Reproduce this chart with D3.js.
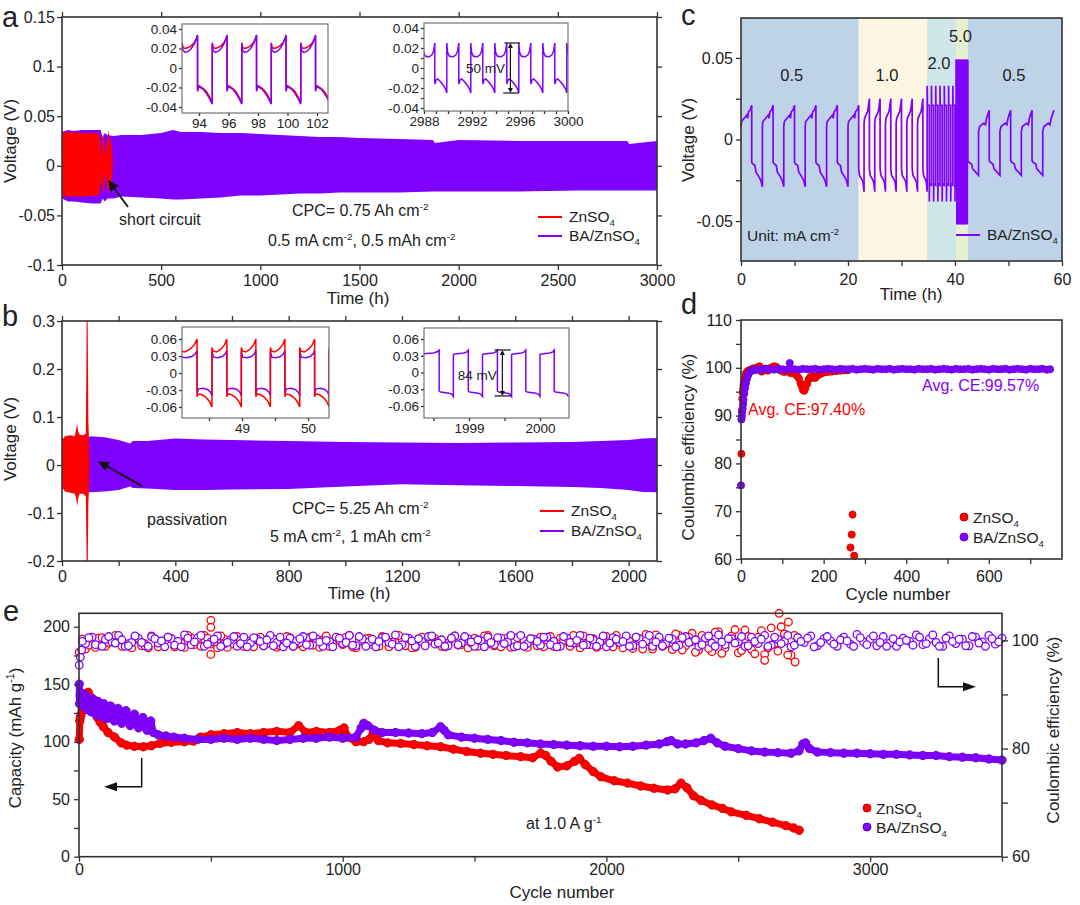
<!DOCTYPE html>
<html>
<head>
<meta charset="utf-8">
<script src="https://cdn.jsdelivr.net/npm/d3@7"></script>
<style>
  body { margin: 0; background: #fff; }
  svg { display: block; }
</style>
</head>
<body>
<script>
// colours and fonts
var FONT = "'Liberation Sans', Arial, Helvetica, sans-serif";
var RED = "#ff0000", PURPLE = "#8000ff", INK = "#222", AX = "#333";

// ---------- panel a : long symmetric cycling, 0.5 mA cm-2 ----------
var aXTicks = [0, 500, 1000, 1500, 2000, 2500, 3000];
var aYTicks = [-0.1, -0.05, 0, 0.05, 0.1, 0.15];
// envelope of the voltage band (time h, upper V, lower V)
var aBaTime = [0, 30, 60, 100, 150, 195, 205, 215, 230, 260, 300, 400, 500, 560, 600, 700, 800, 900, 1000, 1100, 1200, 1300, 1400, 1500, 1700, 1870, 1880, 2000, 2300, 2600, 2850, 2860, 3000];
var aBaHi = [0.034, 0.036, 0.035, 0.036, 0.036, 0.036, 0.028, 0.033, 0.031, 0.03, 0.031, 0.031, 0.033, 0.036, 0.034, 0.034, 0.033, 0.033, 0.032, 0.031, 0.03, 0.029, 0.029, 0.028, 0.027, 0.026, 0.023, 0.026, 0.025, 0.025, 0.025, 0.022, 0.025];
var aBaLo = [-0.033, -0.036, -0.036, -0.037, -0.038, -0.038, -0.033, -0.036, -0.033, -0.033, -0.031, -0.032, -0.033, -0.034, -0.034, -0.033, -0.032, -0.03, -0.03, -0.029, -0.028, -0.028, -0.027, -0.027, -0.027, -0.026, -0.026, -0.026, -0.026, -0.025, -0.025, -0.025, -0.025];
var aZnTime = [0, 20, 100, 180, 190, 200, 205, 212, 220, 228, 235, 242, 250, 256];
var aZnHi = [0.033, 0.034, 0.033, 0.033, 0.029, 0.012, 0.03, 0.031, 0.008, 0.025, 0.036, 0.02, 0.03, 0.0];
var aZnLo = [-0.03, -0.031, -0.031, -0.03, -0.028, -0.012, -0.025, -0.027, -0.006, -0.02, -0.028, -0.015, -0.02, 0.0];
// inset a1 (93-103 h): switching times and half-cycle profiles [fraction, V]
var a1Edges = [92.85, 93.9, 94.9, 95.9, 96.9, 97.9, 98.9, 99.9, 100.9, 101.9, 102.9];
var a1BaPos = [[0, 0.025], [0.06, 0.018], [0.2, 0.016], [0.4, 0.017], [0.6, 0.02], [0.8, 0.025], [0.95, 0.031], [1, 0.034]];
var a1BaNeg = [[0, -0.024], [0.08, -0.019], [0.2, -0.02], [0.4, -0.022], [0.6, -0.026], [0.8, -0.031], [1, -0.037]];
var a1ZnPos = [[0, 0.026], [0.06, 0.021], [0.2, 0.02], [0.4, 0.021], [0.6, 0.023], [0.8, 0.026], [0.95, 0.031], [1, 0.033]];
var a1ZnNeg = [[0, -0.022], [0.08, -0.018], [0.2, -0.019], [0.4, -0.021], [0.6, -0.024], [0.8, -0.029], [1, -0.035]];
var a1XTicks = [94, 96, 98, 100, 102];
var a1YTicks = [-0.04, -0.02, 0, 0.02, 0.04];
// inset a2 (2988-3000 h)
var a2Edges = [2987.9, 2988.9, 2989.9, 2990.9, 2991.9, 2992.9, 2993.9, 2994.9, 2995.9, 2996.9, 2997.9, 2998.9, 2999.9, 3000.9];
var a2Pos = [[0, 0.025], [0.06, 0.016], [0.2, 0.012], [0.5, 0.011], [0.75, 0.013], [0.9, 0.017], [1, 0.025]];
var a2Neg = [[0, -0.016], [0.1, -0.012], [0.25, -0.011], [0.5, -0.014], [0.75, -0.018], [0.9, -0.021], [1, -0.025]];
var a2XTicks = [2988, 2989, 2990, 2991, 2992, 2993, 2994, 2995, 2996, 2997, 2998, 2999, 3000];
var a2XLabels = [2988, 2992, 2996, 3000];
var a2YTicks = [-0.04, -0.03, -0.02, -0.01, 0, 0.01, 0.02, 0.03, 0.04];

// ---------- panel b : 5 mA cm-2 ----------
var bXTicks = [0, 200, 400, 600, 800, 1000, 1200, 1400, 1600, 1800, 2000];
var bXLabels = [0, 400, 800, 1200, 1600, 2000];
var bYTicks = [-0.2, -0.1, 0, 0.1, 0.2, 0.3];
var bBaTime = [0, 95, 100, 150, 200, 240, 250, 300, 400, 500, 600, 800, 1000, 1200, 1400, 1600, 1800, 1900, 2000, 2050, 2100];
var bBaHi = [0.055, 0.058, 0.06, 0.058, 0.052, 0.045, 0.05, 0.05, 0.055, 0.053, 0.052, 0.05, 0.048, 0.047, 0.046, 0.047, 0.048, 0.05, 0.052, 0.055, 0.056];
var bBaLo = [-0.05, -0.056, -0.057, -0.055, -0.052, -0.045, -0.048, -0.049, -0.052, -0.052, -0.051, -0.05, -0.045, -0.04, -0.042, -0.044, -0.046, -0.048, -0.052, -0.056, -0.057];
var bZnTime = [0, 10, 30, 45, 50, 54, 57, 62, 75, 84, 86, 87, 90, 91, 93, 95, 97];
var bZnHi = [0.05, 0.06, 0.062, 0.06, 0.075, 0.085, 0.07, 0.063, 0.062, 0.065, 0.2, 0.33, 0.33, 0.27, 0.09, 0.06, 0];
var bZnLo = [-0.045, -0.055, -0.058, -0.06, -0.07, -0.085, -0.07, -0.06, -0.06, -0.065, -0.15, -0.22, -0.22, -0.2, -0.08, -0.055, 0];
var b1Edges = [48.05, 48.32, 48.545, 48.77, 48.99, 49.21, 49.43, 49.65, 49.875, 50.1, 50.32, 50.55];
var b1ZnPos = [[0, 0.045], [0.08, 0.039], [0.3, 0.037], [0.6, 0.042], [0.85, 0.05], [1, 0.06]];
var b1ZnNeg = [[0, -0.042], [0.08, -0.037], [0.3, -0.038], [0.6, -0.043], [0.85, -0.051], [1, -0.06]];
var b1BaPos = [[0, 0.038], [0.1, 0.028], [0.4, 0.027], [0.7, 0.029], [0.9, 0.034], [1, 0.04]];
var b1BaNeg = [[0, -0.036], [0.1, -0.028], [0.4, -0.027], [0.7, -0.029], [0.9, -0.034], [1, -0.04]];
var b1XTicks = [48.5, 49, 49.5, 50];
var b1XLabels = [49, 50];
var bInYTicks = [-0.06, -0.03, 0, 0.03, 0.06];
var b2Edges = [1998.3, 1998.58, 1998.78, 1998.99, 1999.19, 1999.4, 1999.6, 1999.8, 2000.0, 2000.2, 2000.4];
var b2Pos = [[0, 0.032], [0.1, 0.033], [0.7, 0.035], [0.9, 0.037], [1, 0.04]];
var b2Neg = [[0, -0.033], [0.1, -0.035], [0.7, -0.037], [0.9, -0.039], [1, -0.043]];
var b2XTicks = [1998.5, 1999, 1999.5, 2000];
var b2XLabels = [1999, 2000];

// ---------- panel c : rate test ----------
var cXTicks = [0, 10, 20, 30, 40, 50, 60];
var cXLabels = [0, 20, 40, 60];
var cYTicks = [-0.05, -0.025, 0, 0.025, 0.05];
var cYLabels = [-0.05, 0, 0.05];
var cRates = ["0.5", "1.0", "2.0", "5.0", "0.5"];
var cStart = [0, 22, 34.8, 40.2, 42.4];
var cEnd = [22, 34.8, 40.2, 42.4, 60];
var cBandColor = ["#bed3e7", "#fdf6e3", "#cfe7ea", "#e6f1d0", "#bed3e7"];
var c05aEdges = [0, 2, 4, 6, 8, 10, 12, 14, 16, 18, 20, 22];
var c05aPos = [[0, 0.008], [0.05, 0.011], [0.3, 0.013], [0.55, 0.015], [0.62, 0.013], [0.7, 0.017], [0.85, 0.018], [1, 0.021]];
var c05aNeg = [[0, -0.014], [0.1, -0.015], [0.3, -0.016], [0.4, -0.02], [0.6, -0.022], [0.85, -0.025], [1, -0.029]];
var c10Edges = [22, 23, 24, 25, 26, 27, 28, 29, 30, 31, 32, 33, 34, 34.8];
var c10Pos = [[0, 0.01], [0.1, 0.013], [0.5, 0.016], [0.65, 0.017], [0.8, 0.02], [1, 0.025]];
var c10Neg = [[0, -0.018], [0.15, -0.022], [0.5, -0.024], [0.8, -0.026], [1, -0.032]];
var c20Edges = [34.8, 35.2, 35.6, 36.0, 36.4, 36.8, 37.2, 37.6, 38.0, 38.4, 38.8, 39.2, 39.6, 40.0, 40.2];
var c20Pos = [[0, 0.033], [0.1, 0.021], [1, 0.021]];
var c20Neg = [[0, -0.038], [0.1, -0.027], [1, -0.028]];
var c50Edges = [40.2, 40.35, 40.5, 40.65, 40.8, 40.95, 41.1, 41.25, 41.4, 41.55, 41.7, 41.85, 42.0, 42.15, 42.3, 42.4];
var c50Pos = [[0, 0.049], [1, 0.048]];
var c50Neg = [[0, -0.052], [1, -0.051]];
var c05bEdges = [42.4, 44.4, 46.4, 48.4, 50.4, 52.4, 54.4, 56.4, 58.5];
var c05bPos = [[0, 0.005], [0.1, 0.008], [0.5, 0.01], [0.65, 0.009], [0.75, 0.013], [1, 0.018]];
var c05bNeg = [[0, -0.013], [0.1, -0.014], [0.35, -0.015], [0.45, -0.018], [1, -0.022]];
var cLabX = [9.5, 27.3, 37.0, 41.0, 51.0];
var cLabY = [0.036, 0.036, 0.0435, 0.0595, 0.036];

// ---------- panel d : Coulombic efficiency of Zn||Cu ----------
var dXTicks = [0, 100, 200, 300, 400, 500, 600, 700];
var dXLabels = [0, 200, 400, 600];
var dYTicks = [60, 65, 70, 75, 80, 85, 90, 95, 100, 105, 110];
var dYLabels = [60, 70, 80, 90, 100, 110];
var dZn = [[1, 82], [2, 91], [3, 93.5], [4, 94.8], [5, 95.6], [6, 96.5], [8, 97.3], [10, 98.1], [12, 98.8], [15, 99.2], [18, 99.4], [22, 99.5], [26, 99.7], [30, 99.9], [35, 99.6], [40, 100.1], [45, 100.3], [50, 99.2], [55, 99.6], [60, 99.8], [65, 99.4], [70, 99.9], [75, 100.1], [80, 100.3], [85, 100.2], [90, 99.8], [95, 99.5], [100, 99.3], [105, 99.1], [110, 99.4], [115, 99.2], [120, 98.9], [125, 99.1], [130, 98.8], [135, 98.4], [140, 97.8], [144, 96.8], [147, 96.2], [150, 95.4], [153, 95.2], [156, 95.8], [160, 96.7], [164, 97.6], [168, 98.1], [172, 97.9], [176, 98.2], [180, 97.9], [185, 98.4], [190, 98.6], [195, 98.9], [200, 99.0], [210, 99.1], [220, 99.2], [230, 99.3], [240, 99.4], [250, 99.5], [258, 99.5], [270, 69.3], [268, 65.1], [265, 62.4], [274, 60.7]];
var dBa = [[0, 75.4], [1, 89.2], [2, 89.8], [3, 90.6], [4, 91.5], [5, 92.4], [6, 93.3], [8, 94.6], [10, 95.8], [12, 96.8], [14, 97.6], [16, 98.2], [18, 98.7], [20, 99.0], [24, 99.3], [28, 99.5], [32, 99.6], [36, 99.6], [40, 99.7], [50, 99.6], [60, 99.8], [70, 99.7], [80, 99.6], [90, 99.8], [100, 99.7], [110, 99.6], [118, 101.0], [120, 99.8], [130, 99.7], [140, 99.6], [150, 99.8], [160, 99.7], [170, 99.7], [180, 99.8], [190, 99.6], [200, 99.7], [210, 99.8], [220, 99.7], [230, 99.6], [240, 99.8], [250, 99.7], [260, 99.7], [270, 99.8], [280, 99.6], [290, 99.7], [300, 99.8], [310, 99.7], [320, 99.6], [330, 99.8], [340, 99.7], [350, 99.7], [360, 99.8], [370, 99.6], [380, 99.7], [390, 99.8], [400, 99.7], [410, 99.7], [420, 99.6], [430, 99.8], [440, 99.7], [450, 99.7], [460, 99.8], [470, 99.6], [480, 99.7], [490, 99.8], [500, 99.7], [510, 99.6], [520, 99.8], [530, 99.7], [540, 99.7], [550, 99.8], [560, 99.6], [570, 99.7], [580, 99.8], [590, 99.7], [600, 99.6], [610, 99.8], [620, 99.7], [630, 99.7], [640, 99.8], [650, 99.6], [660, 99.7], [670, 99.8], [680, 99.7], [690, 99.6], [700, 99.8], [710, 99.7], [720, 99.7], [730, 99.8], [740, 99.6], [748, 99.7]];

// ---------- panel e : full cell at 1.0 A g-1 ----------
var eXTicks = [0, 500, 1000, 1500, 2000, 2500, 3000, 3500];
var eXLabels = [0, 1000, 2000, 3000];
var eYTicks = [0, 25, 50, 75, 100, 125, 150, 175, 200];
var eYLabels = [0, 50, 100, 150, 200];
var eY2Ticks = [60, 70, 80, 90, 100];
var eY2Labels = [60, 80, 100];
var eZnCap = [[1, 102], [3, 118], [5, 121], [8, 124], [12, 128], [16, 133], [20, 137], [25, 140], [30, 142], [35, 143], [40, 140], [45, 136], [50, 132], [60, 126], [70, 121], [80, 117], [92, 113], [110, 108], [135, 104], [160, 99], [181, 97], [210, 96], [244, 95.6], [275, 96.5], [308, 98.6], [350, 99.5], [400, 100], [434, 100.5], [460, 104], [500, 106], [550, 107], [600, 108], [650, 107], [700, 108], [750, 109], [800, 108], [833, 114], [860, 108], [900, 109], [950, 108], [990, 110], [1005, 112], [1020, 104], [1050, 100], [1080, 100], [1100, 102], [1115, 107], [1135, 101], [1170, 99], [1220, 98.5], [1270, 97.5], [1320, 96.5], [1371, 95.6], [1420, 93.5], [1470, 91.5], [1523, 90], [1570, 89], [1620, 88], [1675, 87], [1720, 86], [1751, 90], [1770, 88], [1790, 83], [1815, 78], [1850, 79], [1880, 83], [1897, 85.5], [1920, 80], [1950, 74], [1979, 69.5], [2030, 66], [2080, 64], [2130, 61.5], [2180, 59.5], [2232, 58], [2260, 59], [2283, 64], [2305, 60], [2330, 53], [2359, 49], [2400, 45], [2440, 42], [2473, 39], [2530, 36], [2580, 33], [2630, 30], [2680, 27], [2710, 25], [2731, 23]];
var eBaCap = [[1, 150], [2, 133], [4, 140], [8, 137], [12, 142], [18, 131], [24, 140], [30, 128], [38, 138], [46, 126], [54, 137], [62, 124], [72, 135], [82, 122], [94, 133], [106, 120], [120, 131], [134, 118], [148, 129], [162, 116], [178, 127], [194, 114], [210, 124], [226, 112], [242, 121], [258, 110], [272, 118], [282, 108], [300, 106], [330, 105], [360, 104], [400, 103], [450, 102], [500, 102], [550, 103], [600, 102], [650, 103], [700, 102], [750, 101], [800, 102], [850, 103], [900, 103], [950, 104], [1000, 103], [1050, 104], [1070, 112], [1080, 116], [1095, 114], [1120, 110], [1150, 108], [1200, 108], [1250, 107.5], [1300, 107], [1340, 108], [1371, 113], [1385, 110], [1400, 106], [1450, 104], [1500, 103], [1550, 102], [1600, 101], [1650, 99.5], [1700, 99], [1750, 98], [1800, 97.5], [1850, 97], [1900, 96.5], [1950, 96], [2000, 96], [2050, 95.6], [2100, 96], [2150, 97], [2200, 98], [2230, 100], [2245, 101], [2270, 98], [2300, 98], [2340, 99], [2370, 101], [2396, 103], [2420, 99], [2450, 96], [2500, 94], [2550, 92], [2600, 91], [2650, 90.5], [2700, 90], [2730, 92], [2745, 98], [2755, 99], [2770, 94], [2800, 91], [2850, 90.5], [2900, 90], [2950, 90], [3000, 89.5], [3050, 89], [3100, 89], [3150, 88.5], [3200, 88], [3250, 88], [3300, 87], [3350, 86.5], [3400, 86], [3450, 85], [3500, 84]];
// CE read every 25 cycles (first point = cycle 1), and the in-between cycles (12.5 + 25 i)
var ceStep = 25;
var eZnCe = [97.8, 98.4, 99.5, 100.4, 98.9, 99.8, 100.6, 99.2, 98.6, 100.1,
  99.4, 100.8, 98.8, 99.9, 100.3, 99.1, 98.7, 100.5, 99.6, 100.9,
  99.3, 98.6, 100.2, 99.7, 100.7, 98.9, 99.5, 100.4, 99.0, 100.8,
  98.7, 99.9, 100.5, 99.3, 98.8, 100.6, 99.6, 100.1, 98.9, 100.3,
  99.2, 100.9, 98.6, 99.8, 100.4, 99.1, 100.7, 98.8, 99.6, 100.2,
  99.4, 98.7, 100.6, 99.9, 100.3, 98.9, 99.5, 100.8, 99.2, 98.6,
  100.4, 99.7, 100.9, 99.0, 98.8, 100.5, 99.6, 100.1, 98.7, 99.9,
  100.6, 99.3, 98.9, 100.4, 99.8, 100.9, 98.6, 99.5, 100.3, 99.1,
  100.7, 98.8, 99.6, 100.5, 98.5, 99.9, 101.1, 98.4, 100.2, 99.3,
  98.3, 100.9, 99.0, 101.3, 98.2, 100.4, 97.9, 101.6, 98.6, 100.8,
  97.7, 101.9, 98.3, 100.6, 97.4, 102.3, 98.0, 101.2, 97.2, 100.5];
var eZnCeB = [100.2, 99.1, 98.7, 100.5, 99.6, 100.9, 98.9, 99.4, 100.7, 99.0,
  98.6, 100.3, 99.8, 100.6, 98.8, 99.5, 100.9, 99.2, 98.9, 100.4,
  99.7, 100.8, 98.7, 99.3, 100.1, 99.9, 98.8, 100.6, 99.4, 100.2,
  99.0, 100.7, 98.9, 99.6, 100.4, 99.1, 98.7, 100.8, 99.5, 100.0,
  100.6, 98.8, 99.9, 100.3, 99.2, 98.9, 100.5, 99.7, 100.9, 99.0,
  98.6, 100.2, 99.4, 100.7, 99.8, 98.8, 100.4, 99.1, 100.6, 99.5,
  98.9, 100.8, 99.3, 100.1, 99.6, 98.7, 100.5, 99.9, 100.3, 99.0,
  98.8, 100.7, 99.4, 100.0, 98.9, 99.6, 100.8, 99.2, 98.7, 100.4,
  99.5, 100.9, 98.6, 99.8, 100.6, 98.4, 99.7, 101.0, 98.9, 100.3,
  101.2, 98.2, 100.6, 97.8, 100.9, 98.5, 101.5, 97.6, 100.2, 102.0,
  98.1, 100.7, 97.5, 101.8, 98.6, 99.4, 102.5, 97.3, 100.9];
var eZnCeOut = [[500, 103.7], [500, 102.4], [500, 97.4], [2655, 105.0], [2690, 103.4], [2715, 96.0], [2600, 96.3]];
var eBaCe = [95.4, 99.4, 100.6, 99.1, 100.2, 99.7, 100.9, 98.9, 99.6, 100.4,
  99.0, 100.7, 99.5, 98.8, 100.3, 99.8, 101.0, 99.2, 100.5, 98.9,
  99.7, 100.8, 99.3, 100.1, 98.9, 100.6, 99.5, 100.2, 99.0, 100.9,
  99.6, 98.8, 100.4, 99.9, 100.7, 99.1, 100.3, 98.9, 99.8, 100.6,
  99.4, 100.9, 99.0, 100.2, 99.7, 98.8, 100.5, 99.6, 101.0, 99.2,
  100.4, 98.9, 99.8, 100.7, 99.3, 100.1, 99.0, 100.8, 99.5, 100.3,
  98.9, 99.9, 100.6, 99.2, 100.4, 99.7, 98.8, 100.9, 99.4, 100.2,
  99.1, 100.6, 99.8, 98.9, 100.4, 99.5, 100.9, 99.2, 100.1, 99.7,
  98.8, 100.5, 99.6, 100.8, 99.0, 100.3, 99.9, 98.9, 100.6, 99.4,
  100.2, 99.1, 100.7, 99.8, 98.9, 100.4, 99.5, 101.0, 99.2, 100.3,
  99.7, 98.9, 100.6, 99.4, 100.9, 99.1, 100.2, 99.8, 98.8, 100.5,
  99.6, 100.8, 99.0, 100.3, 99.9, 98.9, 100.6, 99.3, 101.1, 99.7,
  100.2, 99.0, 100.7, 99.5, 98.9, 100.4, 99.8, 101.0, 99.2, 100.3,
  99.6, 98.9, 100.8, 99.4, 100.2, 99.0, 100.6, 99.7, 100.9, 99.3, 100.4];
var eBaCeB = [99.8, 100.5, 99.2, 98.9, 100.7, 99.5, 100.1, 99.0, 100.8, 99.6,
  98.9, 100.3, 99.9, 100.6, 99.1, 98.8, 100.4, 99.7, 100.9, 99.3,
  100.2, 98.9, 99.6, 100.7, 99.4, 98.8, 100.5, 99.8, 100.1, 99.0,
  100.6, 99.5, 98.9, 100.3, 99.2, 100.8, 99.7, 100.0, 98.8, 100.4,
  99.6, 99.1, 100.7, 98.9, 100.2, 99.8, 100.6, 99.3, 98.8, 100.5,
  99.9, 100.3, 99.0, 100.8, 99.5, 98.9, 100.4, 99.2, 100.7, 99.7,
  100.1, 98.8, 99.6, 100.5, 99.4, 100.9, 99.0, 98.9, 100.3, 99.8,
  100.6, 99.2, 98.8, 100.7, 99.6, 100.0, 99.1, 100.4, 98.9, 100.8,
  99.5, 100.2, 99.8, 98.9, 100.6, 99.3, 100.9, 99.7, 99.0, 100.4,
  98.8, 100.5, 99.6, 100.1, 99.2, 100.8, 98.9, 99.7, 100.3, 99.5,
  100.7, 99.0, 99.8, 100.2, 98.9, 100.6, 99.4, 100.9, 99.1, 99.8,
  100.4, 98.8, 99.6, 100.7, 99.3, 100.1, 99.9, 98.9, 100.5, 99.2,
  100.8, 99.6, 98.9, 100.3, 99.7, 100.0, 99.1, 100.6, 99.4, 101.0,
  98.9, 100.4, 99.8, 100.2, 99.0, 100.7, 99.5, 98.9, 100.3, 99.7];
var eBaCeEarly = [[5, 96.9], [10, 98.2]];

// ---------------------------------------------------------------
var svg = d3.select("body").append("svg").attr("width", 1080).attr("height", 905);
var defs = svg.append("defs");
var clipN = 0;

function clipTo(x0, y0, x1, y1) {
  var id = "clip" + (clipN++);
  defs.append("clipPath").attr("id", id).append("rect")
    .attr("x", x0).attr("y", y0).attr("width", x1 - x0).attr("height", y1 - y0);
  return "url(#" + id + ")";
}

function axis(g, scale, orient, at, ticks, labels, size, pad, fs) {
  var make = { bottom: d3.axisBottom, top: d3.axisTop, left: d3.axisLeft, right: d3.axisRight }[orient];
  var gen = make(scale).tickValues(ticks).tickSize(size).tickPadding(pad)
    .tickFormat(function (d) { return labels && labels.indexOf(d) >= 0 ? String(d) : ""; });
  var horiz = orient === "bottom" || orient === "top";
  var ag = g.append("g").attr("transform", horiz ? "translate(0," + at + ")" : "translate(" + at + ",0)").call(gen);
  ag.select(".domain").remove();
  ag.selectAll("line").attr("stroke", AX).attr("stroke-width", 1.3);
  ag.selectAll("text").attr("fill", INK).style("font-size", fs + "px").style("font-family", FONT);
  return ag;
}

function frame(g, x0, y0, x1, y1, color, w) {
  g.append("rect").attr("x", x0).attr("y", y0).attr("width", x1 - x0).attr("height", y1 - y0)
    .attr("fill", "none").attr("stroke", color || AX).attr("stroke-width", w || 1.6);
}

function rich(g, x, y, parts, fs, opt) {
  opt = opt || {};
  var t = g.append("text").attr("x", x).attr("y", y)
    .style("font-family", FONT).style("font-size", fs + "px")
    .attr("fill", opt.fill || INK).attr("text-anchor", opt.anchor || "start");
  if (opt.rotate) t.attr("transform", "rotate(" + opt.rotate + "," + x + "," + y + ")");
  var shift = 0;
  parts.forEach(function (p) {
    var txt = typeof p === "string" ? p : p[0];
    var kind = typeof p === "string" ? "" : p[1];
    var s = t.append("tspan").text(txt);
    var target = kind === "sup" ? -0.4 * fs : kind === "sub" ? 0.28 * fs : 0;
    if (target !== shift) { s.attr("dy", target - shift); shift = target; }
    if (kind) s.style("font-size", (0.62 * fs) + "px");
  });
  return t;
}

function wave(edges, firstPos, pos, neg) {
  var pts = [];
  for (var i = 0; i < edges.length - 1; i++) {
    var prof = ((i % 2 === 0) === firstPos) ? pos : neg;
    var t0 = edges[i], t1 = edges[i + 1];
    prof.forEach(function (p) { pts.push([t0 + p[0] * (t1 - t0), p[1]]); });
  }
  return pts;
}

function arrowHead(g, x1, y1, x2, y2, len, wid) {
  var dx = x2 - x1, dy = y2 - y1, L = Math.hypot(dx, dy), ux = dx / L, uy = dy / L;
  var bx = x2 - ux * len, by = y2 - uy * len;
  g.append("path")
    .attr("d", "M" + x2 + "," + y2 + "L" + (bx - uy * wid) + "," + (by + ux * wid) + "L" + (bx + uy * wid) + "," + (by - ux * wid) + "Z")
    .attr("fill", "#111");
  return [bx, by];
}

function arrow(g, x1, y1, x2, y2, len, wid, sw) {
  var b = arrowHead(g, x1, y1, x2, y2, len, wid);
  g.append("line").attr("x1", x1).attr("y1", y1).attr("x2", b[0]).attr("y2", b[1])
    .attr("stroke", "#111").attr("stroke-width", sw || 1.6);
}

function band(g, x, y, t, hi, lo, color, clip) {
  var area = d3.area().x(function (d) { return x(d[0]); })
    .y0(function (d) { return y(d[2]); }).y1(function (d) { return y(d[1]); });
  g.append("path").datum(d3.zip(t, hi, lo)).attr("d", area).attr("fill", color).attr("clip-path", clip);
}

function inset(g, box, x, y, series, xt, xl, yt, yl) {
  g.append("rect").attr("x", box[0]).attr("y", box[1]).attr("width", box[2] - box[0]).attr("height", box[3] - box[1]).attr("fill", "#fff");
  var clip = clipTo(box[0], box[1], box[2], box[3]);
  var line = d3.line().x(function (d) { return x(d[0]); }).y(function (d) { return y(d[1]); });
  series.forEach(function (s) {
    g.append("path").datum(s.pts).attr("d", line).attr("fill", "none")
      .attr("stroke", s.color).attr("stroke-width", 1.5).attr("clip-path", clip);
  });
  axis(g, x, "bottom", box[3], xt, xl, 3, 2, 13.5);
  axis(g, y, "left", box[0], yt, yl, 3, 2, 13.5);
  frame(g, box[0], box[1], box[2], box[3], "#666", 1.1);
}

function legendLine(g, x, y, color, parts) {
  g.append("line").attr("x1", x).attr("x2", x + 24).attr("y1", y).attr("y2", y).attr("stroke", color).attr("stroke-width", 2);
  rich(g, x + 31, y + 5, parts, 15.5);
}

function legendDot(g, x, y, color, parts) {
  g.append("circle").attr("cx", x).attr("cy", y).attr("r", 4).attr("fill", color).attr("stroke", d3.color(color).darker(0.6));
  rich(g, x + 9, y + 5.5, parts, 15.5);
}

var ZN = ["ZnSO", ["4", "sub"]];
var BAZN = ["BA/ZnSO", ["4", "sub"]];

// ======================= panel a =======================
var ga = svg.append("g");
var ax = d3.scaleLinear().domain([0, 3000]).range([62, 657]);
var ay = d3.scaleLinear().domain([-0.1, 0.15]).range([265, 17]);
var aClip = clipTo(62, 17, 657, 265);
band(ga, ax, ay, aBaTime, aBaHi, aBaLo, PURPLE, aClip);
band(ga, ax, ay, aZnTime, aZnHi, aZnLo, RED, aClip);
axis(ga, ax, "bottom", 265, aXTicks, aXTicks, 5, 5, 16);
axis(ga, ax, "top", 17, aXTicks, null, 5, 2, 16);
axis(ga, ay, "left", 62, aYTicks, aYTicks, 5, 2, 16);
axis(ga, ay, "right", 657, aYTicks, null, 5, 2, 16);
frame(ga, 62, 17, 657, 265);

var a1x = d3.scaleLinear().domain([94, 102]).range([199, 317]);
var a1y = d3.scaleLinear().domain([-0.04, 0.04]).range([107, 29]);
inset(ga, [182, 24, 328, 113], a1x, a1y, [
  { pts: wave(a1Edges, true, a1ZnPos, a1ZnNeg), color: RED },
  { pts: wave(a1Edges, true, a1BaPos, a1BaNeg), color: PURPLE }
], a1XTicks, a1XTicks, a1YTicks, a1YTicks);

var a2x = d3.scaleLinear().domain([2988, 3000]).range([424, 568]);
var a2y = d3.scaleLinear().domain([-0.04, 0.04]).range([108, 28]);
inset(ga, [424, 23, 568, 111], a2x, a2y, [
  { pts: wave(a2Edges, true, a2Pos, a2Neg), color: PURPLE }
], a2XTicks, a2XLabels, a2YTicks, a1YTicks);
// 50 mV marker
ga.append("line").attr("x1", a2x(2994.7)).attr("x2", a2x(2996.0)).attr("y1", a2y(0.025)).attr("y2", a2y(0.025)).attr("stroke", "#111").attr("stroke-width", 1.2);
ga.append("line").attr("x1", a2x(2994.6)).attr("x2", a2x(2995.9)).attr("y1", a2y(-0.025)).attr("y2", a2y(-0.025)).attr("stroke", "#111").attr("stroke-width", 1.2);
arrow(ga, a2x(2995.2), a2y(0), a2x(2995.2), a2y(0.025), 5, 2.5, 1.2);
arrow(ga, a2x(2995.2), a2y(0), a2x(2995.2), a2y(-0.025), 5, 2.5, 1.2);
rich(ga, a2x(2991.5), 73, ["50 mV"], 13.5);

rich(ga, 119, 225, ["short circuit"], 16);
arrow(ga, ax(333), ay(-0.0415), ax(232), ay(-0.0143), 11, 5, 1.8);
rich(ga, 292, 216, ["CPC= 0.75 Ah cm", ["-2", "sup"]], 16);
rich(ga, 268, 246, ["0.5 mA cm", ["-2", "sup"], ", 0.5 mAh cm", ["-2", "sup"]], 16);
legendLine(ga, 538, 217, RED, ZN);
legendLine(ga, 538, 236, PURPLE, BAZN);
rich(ga, 16, 141, ["Voltage (V)"], 17, { anchor: "middle", rotate: -90 });
rich(ga, 358, 304, ["Time (h)"], 17, { anchor: "middle" });
rich(ga, 2, 27, ["a"], 29);

// ======================= panel b =======================
var gb = svg.append("g");
var bx = d3.scaleLinear().domain([0, 2100]).range([62, 657]);
var by = d3.scaleLinear().domain([-0.2, 0.3]).range([561, 321]);
var bClip = clipTo(62, 321, 657, 561);
band(gb, bx, by, bBaTime, bBaHi, bBaLo, PURPLE, bClip);
band(gb, bx, by, bZnTime, bZnHi, bZnLo, RED, bClip);
axis(gb, bx, "bottom", 561, bXTicks, bXLabels, 5, 5, 16);
axis(gb, bx, "top", 321, bXTicks, null, 5, 2, 16);
axis(gb, by, "left", 62, bYTicks, bYTicks, 5, 2, 16);
axis(gb, by, "right", 657, bYTicks, null, 5, 2, 16);
frame(gb, 62, 321, 657, 561);

var b1x = d3.scaleLinear().domain([49, 50]).range([242, 308]);
var b1y = d3.scaleLinear().domain([-0.06, 0.06]).range([407, 339]);
inset(gb, [182, 327, 329, 418], b1x, b1y, [
  { pts: wave(b1Edges, true, b1BaPos, b1BaNeg), color: PURPLE },
  { pts: wave(b1Edges, true, b1ZnPos, b1ZnNeg), color: RED }
], b1XTicks, b1XLabels, bInYTicks, bInYTicks);

var b2x = d3.scaleLinear().domain([1999, 2000]).range([469, 540]);
var b2y = d3.scaleLinear().domain([-0.06, 0.06]).range([406, 339]);
inset(gb, [424, 328, 569, 418], b2x, b2y, [
  { pts: wave(b2Edges, true, b2Pos, b2Neg), color: PURPLE }
], b2XTicks, b2XLabels, bInYTicks, bInYTicks);
gb.append("line").attr("x1", b2x(1999.36)).attr("x2", b2x(1999.59)).attr("y1", b2y(0.0403)).attr("y2", b2y(0.0403)).attr("stroke", "#111").attr("stroke-width", 1.2);
gb.append("line").attr("x1", b2x(1999.36)).attr("x2", b2x(1999.59)).attr("y1", b2y(-0.042)).attr("y2", b2y(-0.042)).attr("stroke", "#111").attr("stroke-width", 1.2);
arrow(gb, b2x(1999.47), b2y(0), b2x(1999.47), b2y(0.0403), 5, 2.5, 1.2);
arrow(gb, b2x(1999.47), b2y(0), b2x(1999.47), b2y(-0.042), 5, 2.5, 1.2);
rich(gb, b2x(1998.84), 380, ["84 mV"], 13.5);

rich(gb, 147, 525, ["passivation"], 16);
arrow(gb, bx(283), by(-0.044), bx(127), by(0.008), 11, 5, 1.8);
rich(gb, 292, 514, ["CPC= 5.25 Ah cm", ["-2", "sup"]], 16);
rich(gb, 270, 542, ["5 mA cm", ["-2", "sup"], ", 1 mAh cm", ["-2", "sup"]], 16);
legendLine(gb, 540, 511, RED, ZN);
legendLine(gb, 540, 531, PURPLE, BAZN);
rich(gb, 16, 439, ["Voltage (V)"], 17, { anchor: "middle", rotate: -90 });
rich(gb, 359, 599, ["Time (h)"], 17, { anchor: "middle" });
rich(gb, 2, 326, ["b"], 29);

// ======================= panel c =======================
var gc = svg.append("g");
var cx = d3.scaleLinear().domain([0, 60]).range([741, 1062]);
var cy = d3.scaleLinear().domain([-0.0745, 0.0745]).range([261, 18]);
gc.selectAll("rect.bg").data(cStart).join("rect")
  .attr("x", function (d) { return cx(d); }).attr("y", 18)
  .attr("width", function (d, i) { return cx(cEnd[i]) - cx(d); }).attr("height", 243)
  .attr("fill", function (d, i) { return cBandColor[i]; });
var cPts = wave(c05aEdges, true, c05aPos, c05aNeg)
  .concat(wave(c10Edges, false, c10Pos, c10Neg))
  .concat(wave(c20Edges, true, c20Pos, c20Neg))
  .concat(wave(c50Edges, true, c50Pos, c50Neg))
  .concat(wave(c05bEdges, false, c05bPos, c05bNeg));
gc.append("path").datum(cPts)
  .attr("d", d3.line().x(function (d) { return cx(d[0]); }).y(function (d) { return cy(d[1]); }))
  .attr("fill", "none").attr("stroke", PURPLE).attr("stroke-width", 1.7);
cRates.forEach(function (r, i) {
  rich(gc, cx(cLabX[i]), cy(cLabY[i]), [r], 16.5, { anchor: "middle" });
});
axis(gc, cx, "bottom", 261, cXTicks, cXLabels, 5, 8, 16);
axis(gc, cy, "left", 741, cYTicks, cYLabels, 5, 3, 16);
frame(gc, 741, 18, 1062, 261);
rich(gc, 747, 241, ["Unit: mA cm", ["-2", "sup"]], 15.5);
legendLine(gc, 956, 235, PURPLE, BAZN);
rich(gc, 694, 140, ["Voltage (V)"], 17, { anchor: "middle", rotate: -90 });
rich(gc, 911, 300, ["Time (h)"], 17, { anchor: "middle" });
rich(gc, 681, 25, ["c"], 29);

// ======================= panel d =======================
var gd = svg.append("g");
var dx = d3.scaleLinear().domain([0, 777]).range([741, 1062]);
var dy = d3.scaleLinear().domain([60, 110]).range([559, 320]);
var dClip = clipTo(737, 316, 1066, 563);
gd.append("g").attr("clip-path", dClip).selectAll("circle").data(dZn).join("circle")
  .attr("cx", function (d) { return dx(d[0]); }).attr("cy", function (d) { return dy(d[1]); })
  .attr("r", 3.6).attr("fill", RED).attr("stroke", "#d00000").attr("stroke-width", 0.8);
gd.append("g").attr("clip-path", dClip).selectAll("circle").data(dBa).join("circle")
  .attr("cx", function (d) { return dx(d[0]); }).attr("cy", function (d) { return dy(d[1]); })
  .attr("r", 3.6).attr("fill", PURPLE).attr("stroke", "#6a00d6").attr("stroke-width", 0.8);
axis(gd, dx, "bottom", 559, dXTicks, dXLabels, 5, 7, 16);
axis(gd, dy, "left", 741, dYTicks, dYLabels, 5, 4, 16);
frame(gd, 741, 320, 1062, 559);
rich(gd, 748, 415, ["Avg. CE:97.40%"], 16, { fill: RED });
rich(gd, 922, 391, ["Avg. CE:99.57%"], 16, { fill: PURPLE });
legendDot(gd, 964, 517, RED, ZN);
legendDot(gd, 964, 537, PURPLE, BAZN);
rich(gd, 694, 447, ["Coulombic efficiency (%)"], 17, { anchor: "middle", rotate: -90 });
rich(gd, 898, 600, ["Cycle number"], 17, { anchor: "middle" });
rich(gd, 681, 314, ["d"], 29);

// ======================= panel e =======================
var ge = svg.append("g");
var ex = d3.scaleLinear().domain([0, 3500]).range([79, 1002]);
var ey = d3.scaleLinear().domain([0, 211.65]).range([856.7, 613.3]);
var ey2 = d3.scaleLinear().domain([60, 105]).range([856.7, 613.3]);
var eClip = clipTo(74, 609, 1007, 861);
var eg = ge.append("g").attr("clip-path", eClip);

function ceSeries(vals, offset) {
  return vals.map(function (v, i) { return [Math.max(1, offset + i * ceStep), v]; });
}
function hollow(pts, color) {
  eg.append("g").selectAll("circle").data(pts).join("circle")
    .attr("cx", function (d) { return ex(d[0]); }).attr("cy", function (d) { return ey2(d[1]); })
    .attr("r", 3.8).attr("fill", "#fff").attr("stroke", color).attr("stroke-width", 1.3);
}
function filled(pts, color, edge) {
  eg.append("path").datum(pts)
    .attr("d", d3.line().x(function (d) { return ex(d[0]); }).y(function (d) { return ey(d[1]); }))
    .attr("fill", "none").attr("stroke", color).attr("stroke-width", 7).attr("stroke-linejoin", "round").attr("stroke-linecap", "round");
  eg.append("g").selectAll("circle").data(pts).join("circle")
    .attr("cx", function (d) { return ex(d[0]); }).attr("cy", function (d) { return ey(d[1]); })
    .attr("r", 4.2).attr("fill", color).attr("stroke", edge).attr("stroke-width", 0.9);
}
hollow(ceSeries(eZnCe, 0).concat(ceSeries(eZnCeB, 12.5)).concat(eZnCeOut), RED);
hollow(ceSeries(eBaCe, 0).concat(ceSeries(eBaCeB, 12.5)).concat(eBaCeEarly), PURPLE);
filled(eZnCap, RED, "#d40000");
filled(eBaCap, PURPLE, "#6a00d6");

axis(ge, ex, "bottom", 856.7, eXTicks, eXLabels, 5, 2, 16);
axis(ge, ey, "left", 79, eYTicks, eYLabels, 5, 4, 16);
axis(ge, ey2, "right", 1002, eY2Ticks, eY2Labels, 6, 4, 16);
frame(ge, 79, 613.3, 1002, 856.7);
// direction arrows (left -> capacity axis, right -> CE axis)
ge.append("path").attr("d", "M141.7,758V786.7H112").attr("fill", "none").attr("stroke", "#111").attr("stroke-width", 1.5);
arrowHead(ge, 120, 786.7, 104, 786.7, 13, 4.5);
ge.append("path").attr("d", "M938.3,658V686.7H965").attr("fill", "none").attr("stroke", "#111").attr("stroke-width", 1.5);
arrowHead(ge, 960, 686.7, 976, 686.7, 13, 4.5);
rich(ge, 526, 829, ["at 1.0 A g", ["-1", "sup"]], 16);
legendDot(ge, 867, 808, RED, ZN);
legendDot(ge, 867, 827, PURPLE, BAZN);
rich(ge, 21, 738, ["Capacity (mAh g", ["-1", "sup"], ")"], 17, { anchor: "middle", rotate: -90 });
rich(ge, 1059, 730, ["Coulombic efficiency (%)"], 17, { anchor: "middle", rotate: -90 });
rich(ge, 562, 898, ["Cycle number"], 17, { anchor: "middle" });
rich(ge, 3, 621, ["e"], 29);
</script>
</body>
</html>
